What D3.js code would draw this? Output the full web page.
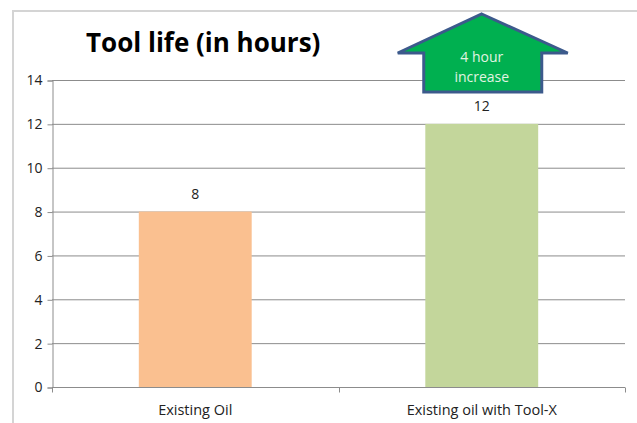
<!DOCTYPE html>
<html lang="en">
<head>
    <meta charset="utf-8">
    <title>Tool life</title>
    <script src="https://d3js.org/d3.v7.min.js"></script>
    <style>
        body { margin: 0; background: #fff; }
        text { font-family: "Liberation Sans Narrow", "Open Sans", sans-serif; }
    </style>
</head>
<body>
<svg id="chart" width="637" height="423"></svg>
<script>
	var categories = ["Existing Oil", "Existing oil with Tool-X"],
		hours = [8, 12],
		barColors = ["#fac090", "#c3d69b"],
		yTicks = [0, 2, 4, 6, 8, 10, 12, 14],
		arrowText = ["4 hour", "increase"];

	(function () {
		var svg = d3.select("#chart"),
			plotLeft = 52, plotRight = 625, plotTop = 80, plotBottom = 387;

		// outer frame (only top and left edges show in the crop)
		svg.append("path")
			.attr("d", "M13,423V11H637")
			.style("fill", "none")
			.style("stroke", "#d4d4d4")
			.style("stroke-width", 2);

		var x = d3.scaleBand().domain(categories).range([plotLeft, plotRight]).paddingInner(0.606).paddingOuter(0.303),
			xOuter = d3.scaleBand().domain(categories).range([plotLeft, plotRight]),
			y = d3.scaleLinear().domain([0, 14]).range([plotBottom, plotTop]);

		// gridlines
		svg.append("g").selectAll("line")
			.data(yTicks)
			.enter().append("line")
			.attr("x1", plotLeft).attr("x2", plotRight)
			.attr("y1", function (d) { return y(d) + 0.5; })
			.attr("y2", function (d) { return y(d) + 0.5; })
			.style("stroke", "#8c8c8c");

		// y axis
		var yAxis = svg.append("g")
			.attr("transform", "translate(" + (plotLeft + 0.5) + ",0.5)")
			.call(d3.axisLeft(y).tickValues(yTicks).tickSize(5).tickPadding(5));
		yAxis.select(".domain").style("stroke", "#8c8c8c");
		yAxis.selectAll(".tick line").style("stroke", "#8c8c8c");
		yAxis.selectAll("text").style("font-size", "14px").style("fill", "#222")
			.style("font-family", "'Liberation Sans Narrow', 'Open Sans', sans-serif");

		// bars
		svg.append("g").selectAll("rect")
			.data(hours)
			.enter().append("rect")
			.attr("x", function (d, i) { return x(categories[i]); })
			.attr("width", x.bandwidth())
			.attr("y", function (d) { return y(d); })
			.attr("height", function (d) { return y(0) - y(d); })
			.style("fill", function (d, i) { return barColors[i]; });

		// x axis
		var xAxis = svg.append("g").attr("transform", "translate(0," + (plotBottom + 0.5) + ")");
		xAxis.append("line").attr("x1", plotLeft).attr("x2", plotRight).style("stroke", "#8c8c8c");
		xAxis.selectAll(".tk")
			.data([plotLeft, xOuter(categories[1]), plotRight])
			.enter().append("line")
			.attr("x1", function (d) { return Math.round(d) + 0.5; })
			.attr("x2", function (d) { return Math.round(d) + 0.5; })
			.attr("y1", 0).attr("y2", 5)
			.style("stroke", "#8c8c8c");
		xAxis.selectAll("text")
			.data(categories)
			.enter().append("text")
			.attr("x", function (d) { return x(d) + x.bandwidth() / 2; })
			.attr("y", 27)
			.attr("text-anchor", "middle")
			.style("font-size", "14.5px")
			.style("fill", "#222")
			.text(function (d) { return d; });

		// value labels
		svg.append("g").selectAll("text")
			.data(hours)
			.enter().append("text")
			.attr("x", function (d, i) { return x(categories[i]) + x.bandwidth() / 2; })
			.attr("y", function (d) { return y(d) - 13; })
			.attr("text-anchor", "middle")
			.style("font-size", "14px")
			.style("fill", "#222")
			.text(function (d) { return d; });

		// title
		svg.append("text")
			.attr("x", 86).attr("y", 52)
			.style("font-size", "26px")
			.style("font-weight", "bold")
			.style("font-family", "'Open Sans', sans-serif")
			.style("fill", "#000")
			.text("Tool life (in hours)");

		// up arrow annotation over the second bar
		var cx = x(categories[1]) + x.bandwidth() / 2,
			tipY = 14, wingY = 53, baseY = 92;
		svg.append("path")
			.attr("d", d3.line()([
				[cx, tipY], [cx + 86, wingY], [cx + 60, wingY], [cx + 60, baseY],
				[cx - 58, baseY], [cx - 58, wingY], [cx - 84, wingY]
			]) + "Z")
			.style("fill", "#00b050")
			.style("stroke", "#3c5a8c")
			.style("stroke-width", 3)
			.style("stroke-linejoin", "miter");
		svg.append("g").selectAll("text")
			.data(arrowText)
			.enter().append("text")
			.attr("x", cx)
			.attr("y", function (d, i) { return 62 + i * 20; })
			.attr("text-anchor", "middle")
			.style("font-size", "14px")
			.style("fill", "#e2f4e2")
			.text(function (d) { return d; });
	}());
</script>
</body>
</html>
